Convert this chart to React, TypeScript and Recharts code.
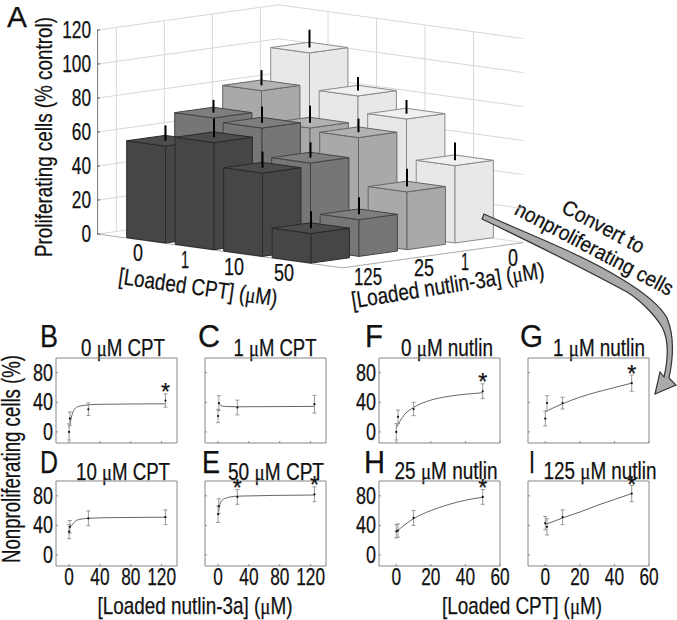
import React from 'react';
import { ComposedChart, ScatterChart, Scatter, Line, ErrorBar, XAxis, YAxis, ReferenceLine, ReferenceArea } from 'recharts';

// panel A: proliferating cells, one list per nutlin dose, ordered by CPT dose
const cptLabels = ['0', '1', '10', '50'];
const nutlinLabels = ['125', '25', '1', '0'];
const nutlin0 = [100, 78.6, 69, 45.5];
const nutlin1 = [81.7, 63.7, 62, 34];
const nutlin25 = [69.6, 67.6, 51, 21.6];
const nutlin125 = [57, 63, 49, 17.4];
const nutlin0Err = [10.5, 8, 8, 10.5];
const nutlin1Err = [9, 10, 8, 10.5];
const nutlin25Err = [7.5, 9.5, 9, 10];
const nutlin125Err = [9, 11, 9.5, 10];
const wallTicks = [0, 20, 40, 60, 80, 100, 120];

// panels B-I
const nutlinDoses = [0, 1, 25, 125];
const cptDoses = [0, 1, 10, 50];
const valuesB = [0, 18, 30.6, 42.5];
const errorsB = [11, 9, 8.5, 9];
const curveB = [[0, 6], [1.3, 11], [3, 20], [5, 27], [8, 32], [14, 35], [40, 37.4], [125, 38]];
const valuesC = [21.5, 39, 33, 37.5];
const errorsC = [9, 10, 10, 12];
const curveC = [[1, 38], [4, 35.5], [8, 34.5], [25, 34], [125, 34.5]];
const valuesD = [31.5, 38, 49.5, 51];
const errorsD = [9.5, 8.5, 10, 10];
const curveD = [[0, 36], [5, 42], [10, 47], [25, 49.5], [60, 50.5], [125, 51]];
const valuesE = [55, 66, 78.5, 82];
const errorsE = [11, 10, 10, 10];
const curveE = [[0, 55], [1, 62], [3, 70], [8, 76], [25, 79.5], [125, 81]];
const valuesF = [0, 20.5, 31, 55];
const errorsF = [11, 9, 9, 10];
const curveF = [[0, 5], [2, 14], [5, 24], [10, 33], [20, 43], [30, 48], [40, 51], [50, 53]];
const valuesG = [18, 39, 39, 66];
const errorsG = [10, 10, 8, 11];
const curveG = [[0, 27], [5, 33], [10, 38], [20, 47], [30, 54], [40, 60], [50, 66]];
const valuesH = [32, 33, 50, 78.5];
const errorsH = [9, 9, 10, 10];
const curveH = [[0, 31], [5, 41], [10, 49], [20, 60], [30, 68], [40, 74], [50, 78]];
const valuesI = [43, 38, 51, 83];
const errorsI = [9, 11, 10, 11];
const curveI = [[0, 41], [10, 50], [20, 58], [30, 67], [40, 75], [50, 83]];

const W = 677;
const H = 620;
const PX = 1.7; // pixels per % in panel A
const font = '"Liberation Sans", Arial, sans-serif';

// oblique projection of panel A, i = CPT step, j = nutlin step (front row is 0)
const project = (i: number, j: number, v: number) => ({
  x: 165.5 + 48.5 * i + 48 * j,
  y: v + (234 - (243 + 6.7 * i - 6.7 * j)) / PX,
});

const rows = (vals: number[], errs: number[], j: number) =>
  vals.map((v, i) => ({ ...project(i, j, v), value: v, err: errs[i] }));

const Txt = ({ x, y, w, size, rot = 0, anchor = 'middle', children }: any) => {
  const parts = String(children).split('μ');
  return (
    <text x={x} y={y} fontSize={size} fontFamily={font} fill="#111" stroke="#111" strokeWidth={0.25} textAnchor={anchor}
      textLength={w} lengthAdjust="spacingAndGlyphs"
      transform={rot ? `rotate(${rot} ${x} ${y})` : undefined}>
      {parts.map((p, k) => (
        <React.Fragment key={k}>
          {k > 0 && <tspan fontFamily='"Liberation Serif", serif'>μ</tspan>}
          {p}
        </React.Fragment>
      ))}
    </text>
  );
};

const cuboid = (face: string, top: string, edge: string) => (props: any) => {
  const { cx, cy, payload } = props;
  const h = payload.value * PX;
  const lx = 0.8 * 48.5;
  const rx = 0.8 * 48;
  const d = 0.8 * 6.7;
  const pts = (a: number[][]) => a.map((p) => p.join(',')).join(' ');
  return (
    <g>
      <polygon points={pts([[cx, cy], [cx - lx, cy - d], [cx - lx, cy - d + h], [cx, cy + h]])} fill={face} stroke={edge} />
      <polygon points={pts([[cx, cy], [cx + rx, cy - d], [cx + rx, cy - d + h], [cx, cy + h]])} fill={face} stroke={edge} />
      <polygon points={pts([[cx, cy], [cx - lx, cy - d], [cx - lx + rx, cy - 2 * d], [cx + rx, cy - d]])} fill={top} stroke={edge} />
      <line x1={cx} x2={cx} y1={cy - d} y2={cy - d - payload.err * PX} stroke="#000" strokeWidth={2} />
    </g>
  );
};

const AxisTick = (props: any) => {
  const { y, payload } = props;
  const s = String(payload.value);
  return (
    <g>
      <line x1={97} x2={100} y1={y} y2={y} stroke="#666" />
      <Txt x={91} y={y + 8} size={23} w={s.length * 9.6} anchor="end">{s}</Txt>
    </g>
  );
};

const seg = (a: any, b: any, c: string, k: string) => (
  <ReferenceLine key={k} segment={[a, b]} stroke={c} ifOverflow="visible" />
);

const iMin = -1.37;
const iMax = 3.68;
const jMin = -0.03;
const jMax = 3.74;

const TopChart = () => {
  const lines: any[] = [];
  wallTicks.forEach((t) => {
    lines.push(seg(project(iMin, jMin, t), project(iMin, jMax, t), '#d8d8d8', `l${t}`));
    lines.push(seg(project(iMin, jMax, t), project(iMax, jMax, t), '#d8d8d8', `r${t}`));
  });
  [0, 1, 2, 3].forEach((k) => {
    lines.push(seg(project(iMin, k + 0.36, 0), project(iMin, k + 0.36, 120), '#d8d8d8', `vl${k}`));
    lines.push(seg(project(k - 0.35, jMax, 0), project(k - 0.35, jMax, 120), '#d8d8d8', `vr${k}`));
  });
  lines.push(seg(project(iMin, jMin, 0), project(iMax, jMin, 0), '#aaa', 'f1'));
  lines.push(seg(project(iMax, jMin, 0), project(iMax, jMax, 0), '#aaa', 'f2'));
  lines.push(seg(project(iMin, jMin, 0), project(iMin, jMin, 120), '#777', 'axis'));
  return (
    <ScatterChart width={W} height={H} margin={{ top: 0, right: 0, bottom: 0, left: 0 }}>
      <XAxis type="number" dataKey="x" domain={[1, W]} hide allowDataOverflow />
      <YAxis type="number" dataKey="y" domain={[(234 - H) / PX, 234 / PX]} width={1} allowDataOverflow
        ticks={wallTicks} interval={0} axisLine={false} tickLine={false} tick={AxisTick} />
      {lines}
      <Scatter data={rows(nutlin0, nutlin0Err, 3)} isAnimationActive={false} shape={cuboid('#e8e8e8', '#f0f0f0', '#8a8a8a')} />
      <Scatter data={rows(nutlin1, nutlin1Err, 2)} isAnimationActive={false} shape={cuboid('#a9a9a9', '#b2b2b2', '#666')} />
      <Scatter data={rows(nutlin25, nutlin25Err, 1)} isAnimationActive={false} shape={cuboid('#767676', '#7e7e7e', '#444')} />
      <Scatter data={rows(nutlin125, nutlin125Err, 0)} isAnimationActive={false} shape={cuboid('#464646', '#4c4c4c', '#2a2a2a')} />

      <Txt x={7} y={27} size={29} w={20} anchor="start">A</Txt>
      <Txt x={52} y={137} size={24} w={240} rot={-90}>Proliferating cells (% control)</Txt>
      <Txt x={138} y={261} size={23} w={10}>{cptLabels[0]}</Txt>
      <Txt x={185} y={268} size={23} w={8}>{cptLabels[1]}</Txt>
      <Txt x={234} y={275} size={23} w={20}>{cptLabels[2]}</Txt>
      <Txt x={284} y={281} size={23} w={20}>{cptLabels[3]}</Txt>
      <Txt x={197} y={295} size={23} w={160} rot={8}>[Loaded CPT] (μM)</Txt>
      <Txt x={368} y={285} size={23} w={28}>{nutlinLabels[0]}</Txt>
      <Txt x={424} y={276} size={23} w={20}>{nutlinLabels[1]}</Txt>
      <Txt x={465} y={270} size={23} w={8}>{nutlinLabels[2]}</Txt>
      <Txt x={513} y={266} size={23} w={10}>{nutlinLabels[3]}</Txt>
      <Txt x={449} y={293} size={23} w={195} rot={-9}>[Loaded nutlin-3a] (μM)</Txt>
      <Txt x={600} y={233} size={21} w={90} rot={28}>Convert to</Txt>
      <Txt x={591} y={255} size={21} w={176} rot={28}>nonproliferating cells</Txt>

      <Txt x={40} y={347} size={31} w={18} anchor="start">B</Txt>
      <Txt x={198} y={347} size={31} w={22} anchor="start">C</Txt>
      <Txt x={40} y={473} size={31} w={18} anchor="start">D</Txt>
      <Txt x={202} y={473} size={31} w={18} anchor="start">E</Txt>
      <Txt x={365} y={347} size={31} w={18} anchor="start">F</Txt>
      <Txt x={520} y={347} size={31} w={23} anchor="start">G</Txt>
      <Txt x={364} y={473} size={31} w={21} anchor="start">H</Txt>
      <Txt x={529} y={473} size={31} w={6} anchor="start">I</Txt>

      <Txt x={123} y={356} size={23} w={84}>0 μM CPT</Txt>
      <Txt x={275} y={356} size={23} w={83}>1 μM CPT</Txt>
      <Txt x={123} y={480} size={23} w={94}>10 μM CPT</Txt>
      <Txt x={276} y={480} size={23} w={96}>50 μM CPT</Txt>
      <Txt x={447} y={356} size={23} w={92}>0 μM nutlin</Txt>
      <Txt x={599} y={356} size={23} w={92}>1 μM nutlin</Txt>
      <Txt x={446} y={479} size={23} w={103}>25 μM nutlin</Txt>
      <Txt x={600} y={479} size={23} w={113}>125 μM nutlin</Txt>

      <Txt x={20} y={459} size={25} w={208} rot={-90}>Nonproliferating cells (%)</Txt>
      <Txt x={195} y={614} size={24} w={195}>[Loaded nutlin-3a] (μM)</Txt>
      <Txt x={522} y={614} size={24} w={160}>[Loaded CPT] (μM)</Txt>
    </ScatterChart>
  );
};

const PointDot = (props: any) => {
  const { cx, cy, payload, index } = props;
  return (
    <g key={index}>
      <circle cx={cx} cy={cy} r={1.1} fill="#111" />
      {payload.star && <Txt x={cx} y={cy - 1} size={24} w={9}>*</Txt>}
    </g>
  );
};

const PANEL_W = 121;
const PANEL_H = 85;
const M_LEFT = 55;
const M_TOP = 20;

const Panel = ({ left, top, doses, vals, errs, curve, stars, xDomain, xTicks, showX, showY }: any) => {
  const points = doses.map((x: number, i: number) => ({ x, y: vals[i], err: errs[i], star: stars.includes(x) }));
  const line = curve.map((p: number[]) => ({ x: p[0], y: p[1] }));
  const xTick = (t: any) => {
    const s = String(t.payload.value);
    return (
      <g>
        <line x1={t.x} x2={t.x} y1={M_TOP + PANEL_H} y2={M_TOP + PANEL_H - 2} stroke="#888" />
        {showX && <Txt x={t.x} y={M_TOP + PANEL_H + 19} size={23} w={s.length * 9.6}>{s}</Txt>}
      </g>
    );
  };
  const yTick = (t: any) => {
    const s = String(t.payload.value);
    return (
      <g>
        <line x1={M_LEFT} x2={M_LEFT + 2} y1={t.y} y2={t.y} stroke="#888" />
        {showY && <Txt x={M_LEFT - 3} y={t.y + 8} size={23} w={s.length * 10} anchor="end">{s}</Txt>}
      </g>
    );
  };
  return (
    <div style={{ position: 'absolute', left: left - M_LEFT, top: top - M_TOP }}>
      <ComposedChart width={M_LEFT + PANEL_W + 25} height={M_TOP + PANEL_H + 30}
        margin={{ top: M_TOP, right: 25, bottom: 0, left: 0 }}>
        <XAxis type="number" dataKey="x" domain={xDomain} ticks={xTicks} interval={0} height={30}
          axisLine={false} tickLine={false} tick={xTick} />
        <YAxis type="number" dataKey="y" domain={[-15, 100]} ticks={[0, 40, 80]} interval={0} width={M_LEFT}
          axisLine={false} tickLine={false} tick={yTick} />
        <ReferenceArea x1={xDomain[0]} x2={xDomain[1]} y1={-15} y2={100} fill="none" stroke="#888" fillOpacity={0} strokeOpacity={1} ifOverflow="visible" />
        <Line data={line} dataKey="y" type="monotone" stroke="#666" strokeWidth={1} dot={false} isAnimationActive={false} />
        <Line data={points} dataKey="y" stroke="none" dot={PointDot} isAnimationActive={false}>
          <ErrorBar dataKey="err" direction="y" width={2} stroke="#999" strokeWidth={1} isAnimationActive={false} />
        </Line>
      </ComposedChart>
    </div>
  );
};

const nutlinAxis = { doses: nutlinDoses, xDomain: [-17, 140], xTicks: [0, 40, 80, 120] };
const cptAxis = { doses: cptDoses, xDomain: [-10, 60], xTicks: [0, 20, 40, 60] };

export default function App() {
  return (
    <div style={{ position: 'absolute', left: 0, top: 0, width: W, height: H, background: '#fff' }}>
      <TopChart />
      {/* the arrow runs over the bars, so it sits in its own layer above the chart */}
      <svg width={W} height={H} style={{ position: 'absolute', left: 0, top: 0, pointerEvents: 'none' }}>
        <path d="M484 214 C530 235 577 252 620 278 C640 290 660 305 667 318 C672 330 675 350 669 378 L676 385 L655 394 L660 372 L664 377 C669 355 668 338 662 327 C655 315 640 300 627 292 C590 272 530 242 482 219 Z"
          fill="#aaa" stroke="#333" strokeWidth={1.2} />
      </svg>
      <Panel {...nutlinAxis} left={56} top={358} vals={valuesB} errs={errorsB} curve={curveB} stars={[125]} showY />
      <Panel {...nutlinAxis} left={205} top={358} vals={valuesC} errs={errorsC} curve={curveC} stars={[]} />
      <Panel {...nutlinAxis} left={56} top={481} vals={valuesD} errs={errorsD} curve={curveD} stars={[]} showY showX />
      <Panel {...nutlinAxis} left={205} top={481} vals={valuesE} errs={errorsE} curve={curveE} stars={[25, 125]} showX />
      <Panel {...cptAxis} left={379} top={358} vals={valuesF} errs={errorsF} curve={curveF} stars={[50]} showY />
      <Panel {...cptAxis} left={528} top={358} vals={valuesG} errs={errorsG} curve={curveG} stars={[50]} />
      <Panel {...cptAxis} left={379} top={481} vals={valuesH} errs={errorsH} curve={curveH} stars={[50]} showY showX />
      <Panel {...cptAxis} left={528} top={481} vals={valuesI} errs={errorsI} curve={curveI} stars={[50]} showX />
    </div>
  );
}
